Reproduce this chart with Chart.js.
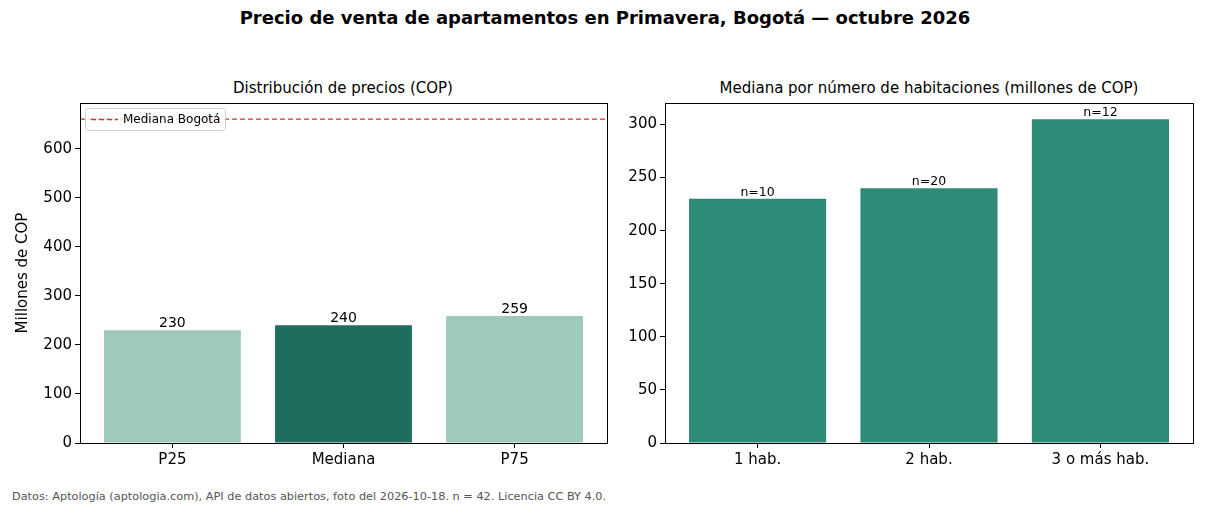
<!DOCTYPE html>
<html lang="es">
<head>
<meta charset="UTF-8">
<title>Precio de venta de apartamentos en Primavera, Bogotá</title>
<script src="https://cdn.jsdelivr.net/npm/chart.js"></script>
<style>
  body { margin: 0; width: 1210px; height: 506px; background: #fff; position: relative; overflow: hidden;
         font-family: "DejaVu Sans", sans-serif; color: #000; }
  .t { position: absolute; white-space: nowrap; }
  #title { left: 0; width: 1210px; top: 7px; text-align: center; font-weight: bold; font-size: 18px; }
  .sub { top: 79px; font-size: 15px; transform: translateX(-50%); }
  #foot { left: 12px; top: 490px; font-size: 11.3px; color: #555; }
  canvas { position: absolute; }
</style>
</head>
<body>
<div class="t" id="title">Precio de venta de apartamentos en Primavera, Bogotá — octubre 2026</div>
<div class="t sub" style="left:343px">Distribución de precios (COP)</div>
<div class="t sub" style="left:929px">Mediana por número de habitaciones (millones de COP)</div>
<div class="t" id="foot">Datos: Aptología (aptologia.com), API de datos abiertos, foto del 2026-10-18. n = 42. Licencia CC BY 4.0.</div>

<div style="position:absolute;left:0;top:93px;width:615px;height:390px"><canvas id="left"></canvas></div>
<div style="position:absolute;left:615px;top:93px;width:590px;height:390px"><canvas id="right"></canvas></div>

<script>
// panel izquierdo
const statLabels = ['P25', 'Mediana', 'P75'];
const statValues = [230, 240, 259];
const statColors = ['#9ec9bb', '#1f6e5d', '#9ec9bb'];
const bogotaMedian = 660;
const leftTicks = [0, 100, 200, 300, 400, 500, 600];

// panel derecho
const roomLabels = ['1 hab.', '2 hab.', '3 o más hab.'];
const roomValues = [230, 240, 305];
const roomCounts = [10, 20, 12];
const rightTicks = [0, 50, 100, 150, 200, 250, 300];

const XMIN = -0.54, XMAX = 2.54;
const FONT = '"DejaVu Sans", sans-serif';
Chart.defaults.font.family = FONT;
Chart.defaults.color = '#000';
Chart.defaults.animation = false;

const frame = {
  id: 'frame',
  afterDatasetsDraw(chart) {
    const a = chart.chartArea, c = chart.ctx;
    c.save();
    c.strokeStyle = '#000';
    c.lineWidth = 1;
    c.strokeRect(Math.round(a.left) + 0.5, Math.round(a.top) + 0.5,
                 Math.round(a.right - a.left), Math.round(a.bottom - a.top));
    c.restore();
  }
};

function barLabels(texts, size) {
  return {
    id: 'barLabels',
    afterDatasetsDraw(chart) {
      const c = chart.ctx;
      const meta = chart.getDatasetMeta(0);
      c.save();
      c.font = size + 'px ' + FONT;
      c.fillStyle = '#000';
      c.textAlign = 'center';
      c.textBaseline = 'bottom';
      meta.data.forEach((bar, i) => c.fillText(texts[i], bar.x, bar.y));
      c.restore();
    }
  };
}

const legendBox = {
  id: 'legendBox',
  afterDraw(chart) {
    const a = chart.chartArea, c = chart.ctx;
    const x = a.left + 5, y = a.top + 5, w = 140, h = 22;
    c.save();
    c.fillStyle = 'rgba(255,255,255,0.8)';
    c.strokeStyle = '#d0d0d0';
    c.lineWidth = 1;
    c.beginPath();
    c.roundRect(x + 0.5, y + 0.5, w, h, 3);
    c.fill();
    c.stroke();
    c.strokeStyle = '#c8372d';
    c.lineWidth = 1.3;
    c.setLineDash([5, 3]);
    c.beginPath();
    c.moveTo(x + 6, y + 11.5);
    c.lineTo(x + 33, y + 11.5);
    c.stroke();
    c.setLineDash([]);
    c.fillStyle = '#000';
    c.font = '12px ' + FONT;
    c.textBaseline = 'middle';
    c.fillText('Mediana Bogotá', x + 38, y + 12);
    c.restore();
  }
};

function axes(labels, ticks, ymax, yWidth, yTitle) {
  const tickStyle = { display: true, drawOnChartArea: false, drawTicks: true, tickLength: 5, color: '#000', offset: false };
  return {
    x: {
      type: 'linear', min: XMIN, max: XMAX, offset: false,
      afterBuildTicks: s => { s.ticks = labels.map((l, i) => ({ value: i })); },
      ticks: { callback: v => labels[v], font: { size: 15 }, padding: 3, maxRotation: 0, autoSkip: false },
      grid: tickStyle, border: { display: false },
      afterFit: s => { s.height = 40; s.paddingLeft = 0; s.paddingRight = 0; }
    },
    y: {
      min: 0, max: ymax,
      afterBuildTicks: s => { s.ticks = ticks.map(v => ({ value: v })); },
      ticks: { font: { size: 15 }, padding: 3 },
      grid: tickStyle, border: { display: false },
      title: yTitle ? { display: true, text: yTitle, font: { size: 15 }, padding: { top: 14, bottom: 0 } } : { display: false },
      afterFit: s => { s.width = yWidth; s.paddingTop = 0; s.paddingBottom = 0; }
    }
  };
}

new Chart(document.getElementById('left'), {
  type: 'bar',
  data: {
    datasets: [
      {
        type: 'bar',
        data: statValues.map((v, i) => ({ x: i, y: v })),
        backgroundColor: statColors,
        barPercentage: 0.8, categoryPercentage: 1,
        order: 2
      },
      {
        type: 'line',
        data: [{ x: XMIN, y: bogotaMedian }, { x: XMAX, y: bogotaMedian }],
        borderColor: '#c8372d', borderWidth: 1.3, borderDash: [5, 3],
        pointRadius: 0, fill: false,
        order: 1
      }
    ]
  },
  options: {
    responsive: true, maintainAspectRatio: false,
    layout: { padding: { top: 10, right: 8, left: 0, bottom: 0 } },
    plugins: { legend: { display: false }, tooltip: { enabled: false } },
    scales: axes(statLabels, leftTicks, 693, 80, 'Millones de COP')
  },
  plugins: [frame, barLabels(statValues.map(String), 14), legendBox]
});

new Chart(document.getElementById('right'), {
  type: 'bar',
  data: {
    datasets: [{
      data: roomValues.map((v, i) => ({ x: i, y: v })),
      backgroundColor: '#2e8b77',
      barPercentage: 0.8, categoryPercentage: 1
    }]
  },
  options: {
    responsive: true, maintainAspectRatio: false,
    layout: { padding: { top: 10, right: 12, left: 0, bottom: 0 } },
    plugins: { legend: { display: false }, tooltip: { enabled: false } },
    scales: axes(roomLabels, rightTicks, 320.25, 50, null)
  },
  plugins: [frame, barLabels(roomCounts.map(n => 'n=' + n), 12.5)]
});
</script>
</body>
</html>
